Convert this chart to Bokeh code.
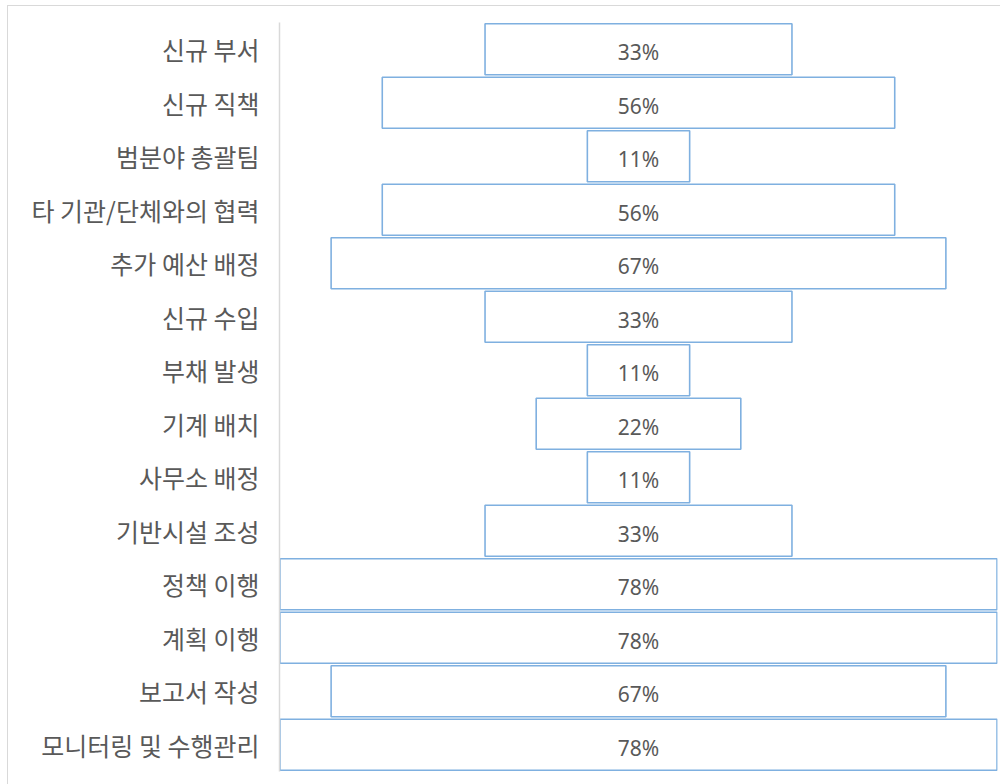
from bokeh.plotting import figure
from bokeh.models import ColumnDataSource, FactorRange, Range1d
from bokeh.core.properties import value
from bokeh.embed import file_html
from bokeh.resources import INLINE

categories = ["신규 부서", "신규 직책", "범분야 총괄팀", "타 기관/단체와의 협력", "추가 예산 배정",
              "신규 수입", "부채 발생", "기계 배치", "사무소 배정", "기반시설 조성",
              "정책 이행", "계획 이행", "보고서 작성", "모니터링 및 수행관리"]
values = [33.3, 55.6, 11.1, 55.6, 66.7, 33.3, 11.1, 22.2, 11.1, 33.3, 77.8, 77.8, 66.7, 77.8]

labels = [f"{round(v):d}%" for v in values]
left = [-v / 2 for v in values]
right = [v / 2 for v in values]

src = ColumnDataSource(dict(cat=categories, val=values, left=left, right=right, lab=labels,
                            zero=[0] * len(values)))

half = max(values) / 2
p = figure(width=993, height=779, output_backend="svg", toolbar_location=None,
           y_range=FactorRange(factors=list(reversed(categories)), range_padding=0),
           x_range=Range1d(-half - 0.05, half + 0.05),
           min_border_left=271, min_border_right=4, min_border_top=16, min_border_bottom=14)
p.margin = (5, 0, 0, 7)
p.styles = {"border-top": "1px solid #d9d9d9", "border-left": "1px solid #d9d9d9"}
p.outline_line_color = None
p.background_fill_color = "white"
p.border_fill_color = "white"

p.hbar(y="cat", left="left", right="right", height=0.955, source=src,
       fill_color="white", line_color="#7fb0e0", line_width=1.6)
p.text(x="zero", y="cat", text="lab", source=src, text_align="center", text_baseline="middle",
       y_offset=3, text_font=value("Noto Sans"), text_font_size="21px", text_color="#595959")

p.xaxis.visible = False
p.xgrid.visible = False
p.ygrid.visible = False
p.yaxis.axis_line_color = "#d9d9d9"
p.yaxis.axis_line_width = 1.5
p.yaxis.major_tick_line_color = None
p.yaxis.minor_tick_line_color = None
p.yaxis.major_label_standoff = 14
p.yaxis.major_label_text_font = "Noto Sans CJK KR"
p.yaxis.major_label_text_font_size = "25px"
p.yaxis.major_label_text_color = "#595959"

open("out.html", "w").write(file_html(p, INLINE))
